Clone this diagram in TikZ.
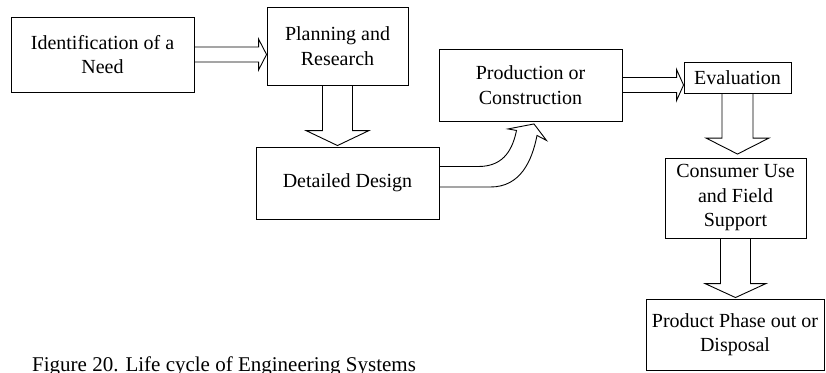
\documentclass[tikz,border=0pt]{standalone}
\usepackage{fontspec}
\setmainfont{Liberation Serif}
\usetikzlibrary{calc}

\begin{document}
\begin{tikzpicture}[x=1pt,y=-1pt,
  box/.style={draw, line width=0.9pt, align=center, inner sep=0pt,
              font=\fontsize{20}{24.5}\selectfont},
  blockarrow/.style={draw, line width=0.9pt, line join=miter}]

\useasboundingbox[fill=white] (0,0) rectangle (826,372);

% life-cycle stages
\node[box, minimum width=183pt, minimum height=75pt] (need) at (102.5,54.5) {Identification of a\\Need};
\node[box, minimum width=141pt, minimum height=78pt] (plan) at (337.5,46) {Planning and\\Research};
\node[box, minimum width=183pt, minimum height=72pt] (dd)   at (347.5,183) {Detailed Design};
\node[box, minimum width=183pt, minimum height=72pt] (prod) at (530.5,85) {Production or\\Construction};
\node[box, minimum width=107pt, minimum height=31pt] (eval) at (737.5,77.5) {Evaluation};
\node[box, minimum width=141pt, minimum height=80pt] (cons) at (735.5,198) {Consumer Use\\and Field\\Support};
\node[box, minimum width=178pt, minimum height=71pt] (disp) at (735,334.5) {Product Phase out or\\Disposal};

% need -> planning
\coordinate (t1) at (plan.west |- need.east);
\draw[blockarrow] ($(need.east)+(0,-7.5)$) -- ($(t1)+(-8,-7.5)$) -- ($(t1)+(-8,-15.5)$)
  -- (t1) -- ($(t1)+(-8,15.5)$) -- ($(t1)+(-8,7.5)$) -- ($(need.east)+(0,7.5)$);

% planning -> detailed design
\coordinate (t2) at ($(plan.south |- dd.north)+(0,-1)$);
\draw[blockarrow] ($(plan.south)+(-15,0)$) -- ($(t2)+(-15,-15)$) -- ($(t2)+(-31.5,-15)$)
  -- (t2) -- ($(t2)+(31.5,-15)$) -- ($(t2)+(15,-15)$) -- ($(plan.south)+(15,0)$);

% detailed design -> production (curved)
\coordinate (t3) at ($(prod.south)+(3.5,2.5)$);
\draw[blockarrow] ($(dd.east)+(0,-16.5)$) -- ($(dd.east)+(39,-16.5)$)
  .. controls ($(dd.east)+(66,-16.5)$) and ($(t3)+(-21,23)$) .. ($(t3)+(-17.5,6.5)$)
  -- ($(t3)+(-26,5)$) -- (t3) -- ($(t3)+(12.5,16.5)$) -- ($(t3)+(3,11.5)$)
  .. controls ($(t3)+(-2,37)$) and ($(dd.east)+(81,4)$) .. ($(dd.east)+(51,4)$)
  -- ($(dd.east)+(0,4)$);

% production -> evaluation
\coordinate (t4) at (eval.west |- prod.east);
\draw[blockarrow] ($(prod.east)+(0,-7.5)$) -- ($(t4)+(-7,-7.5)$) -- ($(t4)+(-7,-15.5)$)
  -- (t4) -- ($(t4)+(-7,15.5)$) -- ($(t4)+(-7,7.5)$) -- ($(prod.east)+(0,7.5)$);

% evaluation -> consumer use
\coordinate (t5) at ($(eval.south |- cons.north)+(0,-3.5)$);
\draw[blockarrow] ($(eval.south)+(-15.5,0)$) -- ($(t5)+(-15.5,-16)$) -- ($(t5)+(-31.5,-16)$)
  -- (t5) -- ($(t5)+(31.5,-16)$) -- ($(t5)+(15.5,-16)$) -- ($(eval.south)+(15.5,0)$);

% consumer use -> disposal
\coordinate (t6) at ($(cons.south |- disp.north)+(0,-1)$);
\draw[blockarrow] ($(cons.south)+(-15,0)$) -- ($(t6)+(-15,-14)$) -- ($(t6)+(-30.5,-14)$)
  -- (t6) -- ($(t6)+(30.5,-14)$) -- ($(t6)+(15,-14)$) -- ($(cons.south)+(15,0)$);

% caption
\node[anchor=base west, inner sep=0pt, font=\fontsize{21}{25}\selectfont] (cap) at (32,371)
  {Figure 20. Life cycle of Engineering Systems};

\end{tikzpicture}
\end{document}
